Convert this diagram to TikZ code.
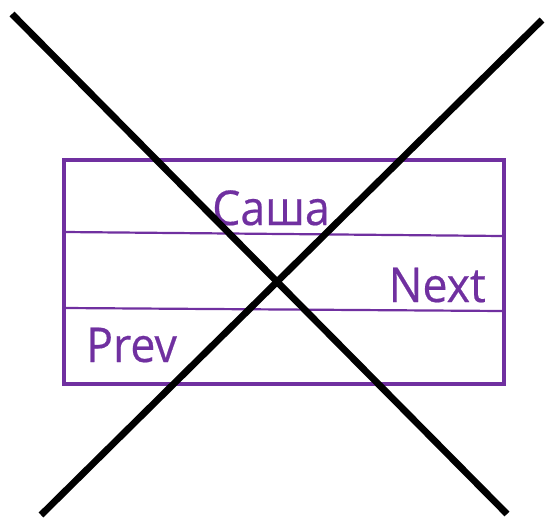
\documentclass[tikz,border=0pt]{standalone}
\usepackage{fontspec}
\setmainfont{Open Sans}[FakeStretch=0.93,FakeBold=0.4]
\definecolor{nodepurple}{HTML}{7030A0}
\begin{document}
\begin{tikzpicture}[x=1pt,y=-1pt,
  frame/.style={draw=nodepurple,line width=3.2pt},
  divider/.style={draw=nodepurple,line width=2.2pt},
  label/.style={text=nodepurple,font=\fontsize{48}{48}\selectfont,inner sep=0pt},
  cross/.style={draw=black,line width=6.8pt}]
  \useasboundingbox (0,0) rectangle (547,519);
  % list element box
  \draw[frame] (64,160) rectangle (504,384);
  \coordinate (d1l) at (64,232);
  \coordinate (d1r) at (502,236);
  \coordinate (d2l) at (64,308);
  \coordinate (d2r) at (502,311);
  \draw[divider] (d1l) -- (d1r);
  \draw[divider] (d2l) -- (d2r);
  % field labels
  \node[label,anchor=base] (name) at (271,225) {Саша};
  \node[label,anchor=base east] (next) at (486,302) {Next};
  \node[label,anchor=base west] (prev) at (86,362) {Prev};
  % crossing-out strokes
  \coordinate (c1a) at (12,14);
  \coordinate (c1b) at (507,514);
  \coordinate (c2a) at (542,20);
  \coordinate (c2b) at (41,515);
  \draw[cross] (c1a) -- (c1b);
  \draw[cross] (c2a) -- (c2b);
\end{tikzpicture}
\end{document}
